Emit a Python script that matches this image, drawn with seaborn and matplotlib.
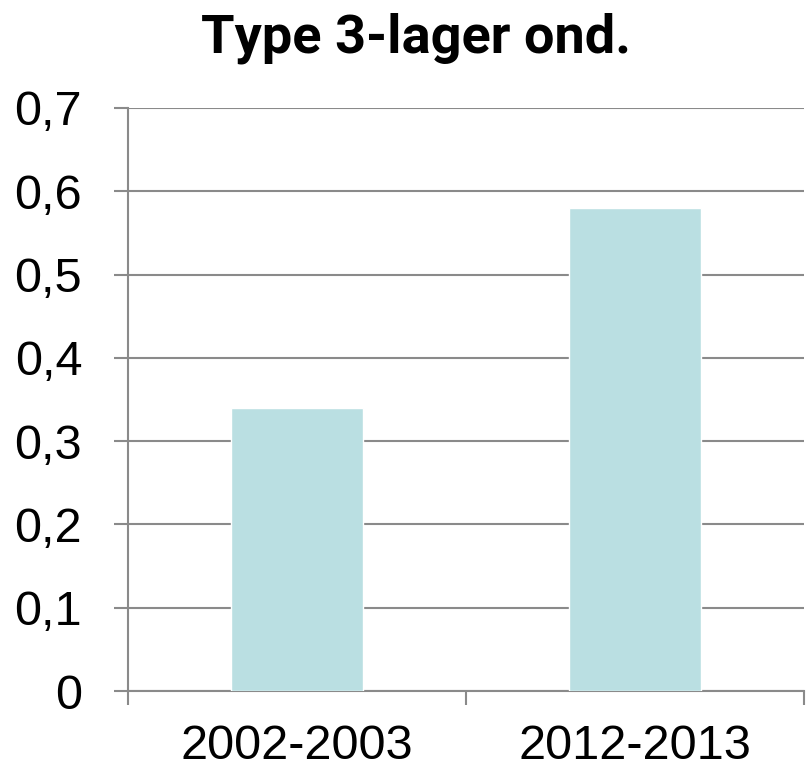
import matplotlib
matplotlib.use("Agg")
import matplotlib.pyplot as plt
import seaborn as sns
import pandas as pd
from matplotlib.ticker import FuncFormatter

# data
periods = ["2002-2003", "2012-2013"]
values = [0.34, 0.58]
yticks = [0, 0.1, 0.2, 0.3, 0.4, 0.5, 0.6, 0.7]
title = "Type 3-lager ond."

df = pd.DataFrame({"period": periods, "value": values})

sns.set_style("white")
plt.rcParams['font.family'] = ['Liberation Sans', 'DejaVu Sans']
plt.rcParams['text.color'] = 'black'
plt.rcParams['xtick.labelcolor'] = 'black'
plt.rcParams['ytick.labelcolor'] = 'black'

grid_col = "#8a8a8a"

fig = plt.figure(figsize=(8.07, 7.69), dpi=100)
ax = fig.add_axes([0.1586, 0.1014, 0.8377, 0.7582])

sns.barplot(data=df, x="period", y="value", color="#badfe2", saturation=1,
            width=0.39, ax=ax, zorder=3)

ax.set_xlim(-0.5, 1.5)
ax.set_ylim(0, 0.7)
ax.set_yticks(yticks)
ax.yaxis.set_major_formatter(FuncFormatter(
    lambda v, p: "0" if abs(v) < 1e-9 else f"{v:.1f}".replace(".", ",")))
ax.grid(axis="y", color=grid_col, linewidth=1.5, zorder=0)
ax.set_axisbelow(True)

# category boundaries as major ticks, labels on minor ticks
ax.set_xticks([-0.5, 0.5, 1.5])
ax.set_xticklabels(["", "", ""])
ax.set_xticks([0, 1], minor=True)
ax.set_xticklabels(periods, minor=True)
ax.tick_params(axis="x", which="major", length=10, width=1.5, color=grid_col, bottom=True)
ax.tick_params(axis="x", which="minor", length=0, pad=24, labelsize=35)
ax.tick_params(axis="y", length=10, width=1.5, color=grid_col, left=True, pad=23, labelsize=35)

for s in ["top", "right"]:
    ax.spines[s].set_visible(False)
for s in ["left", "bottom"]:
    ax.spines[s].set_color(grid_col)
    ax.spines[s].set_linewidth(1.5)

ax.set_xlabel("")
ax.set_ylabel("")

fig.text(0.516, 0.95, title, ha="center", va="center", fontsize=39,
         fontweight="bold", color="black", family=['Roboto', 'DejaVu Sans'])

fig.savefig("out.png", dpi=100)
